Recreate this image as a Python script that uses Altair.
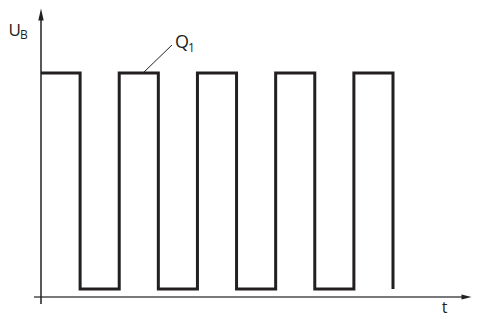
import altair as alt
import pandas as pd

# Square wave Q1: switching instants and levels (data units)
edge_times = [0, 1, 2, 3, 4, 5, 6, 7, 8, 9]
u_high = 5.0
u_low = 0.18

# Axis extents (data units)
t_axis_start = -0.18
t_axis_end = 10.77
t_arrow = 10.879
u_axis_start = -0.156
u_axis_end = 6.183
u_arrow = 6.305

# Labels: text, t, U, size, alignment
label_text = ["U", "B", "Q", "1", "t"]
label_t = [-0.831, -0.537, 3.605, 3.848, 10.317]
label_u = [5.826, 5.759, 5.558, 5.469, -0.346]
label_size = [17, 12, 18, 12, 16]
label_align = ["left", "left", "center", "center", "center"]

# Leader line to Q1
leader_t = [3.349, 2.608]
leader_u = [5.625, 5.0]

# Build the wave polyline
pts_t, pts_u = [], []
for i in range(0, len(edge_times) - 1, 2):
    a, b = edge_times[i], edge_times[i + 1]
    pts_t += [a, b, b]
    pts_u += [u_high, u_high, u_low]
    if i + 2 < len(edge_times):
        pts_t += [edge_times[i + 2]]
        pts_u += [u_low]
wave = pd.DataFrame({"t": pts_t, "u": pts_u, "o": list(range(len(pts_t)))})

W, H = 464, 309
xs = alt.Scale(domain=[-0.8437, 11.020], nice=False, zero=False)
ys = alt.Scale(domain=[-0.446, 6.451], nice=False, zero=False)
X = lambda f: alt.X(f, type="quantitative", scale=xs, axis=None)
Y = lambda f: alt.Y(f, type="quantitative", scale=ys, axis=None)

line = alt.Chart(wave).mark_line(
    color="#231f20", strokeWidth=3, strokeJoin="miter", strokeCap="butt"
).encode(x=X("t"), y=Y("u"), order="o:O")

yaxis = alt.Chart(pd.DataFrame({"t": [0.0], "u1": [u_axis_start], "u2": [u_axis_end]})).mark_rule(
    color="#231f20", strokeWidth=1.5
).encode(x=X("t"), y=Y("u1"), y2="u2")

xaxis = alt.Chart(pd.DataFrame({"u": [0.0], "t1": [t_axis_start], "t2": [t_axis_end]})).mark_rule(
    color="#4d4d4f", strokeWidth=1.5
).encode(y=Y("u"), x=X("t1"), x2="t2")

up_arrow = alt.Chart(pd.DataFrame({"t": [0.0], "u": [u_arrow]})).mark_point(
    shape="M0,-1L0.45,1L-0.45,1Z", size=144, filled=True, color="#231f20", opacity=1
).encode(x=X("t"), y=Y("u"))

right_arrow = alt.Chart(pd.DataFrame({"t": [t_arrow], "u": [0.0]})).mark_point(
    shape="M1,0L-1,0.52L-1,-0.52Z", size=100, filled=True, color="#231f20", opacity=1
).encode(x=X("t"), y=Y("u"))

leader = alt.Chart(pd.DataFrame({"t1": [leader_t[0]], "u1": [leader_u[0]],
                                 "t2": [leader_t[1]], "u2": [leader_u[1]]})).mark_rule(
    color="#231f20", strokeWidth=1
).encode(x=X("t1"), y=Y("u1"), x2="t2", y2="u2")

lab_df = pd.DataFrame({"txt": label_text, "t": label_t, "u": label_u,
                       "s": label_size, "a": label_align})
label_layers = []
for al in ["left", "center"]:
    label_layers.append(
        alt.Chart(lab_df[lab_df["a"] == al]).mark_text(
            font="Open Sans", color="#231f20", align=al, baseline="alphabetic"
        ).encode(x=X("t"), y=Y("u"), text="txt:N",
                 size=alt.Size("s:Q", scale=None, legend=None))
    )

chart = alt.layer(xaxis, yaxis, line, up_arrow, right_arrow, leader, *label_layers).properties(
    width=W, height=H, padding=0, autosize=alt.AutoSizeParams(type="none"),
    background="white"
).configure_view(stroke=None)

chart.save("out.html", embed_options={"renderer": "svg", "actions": False})
